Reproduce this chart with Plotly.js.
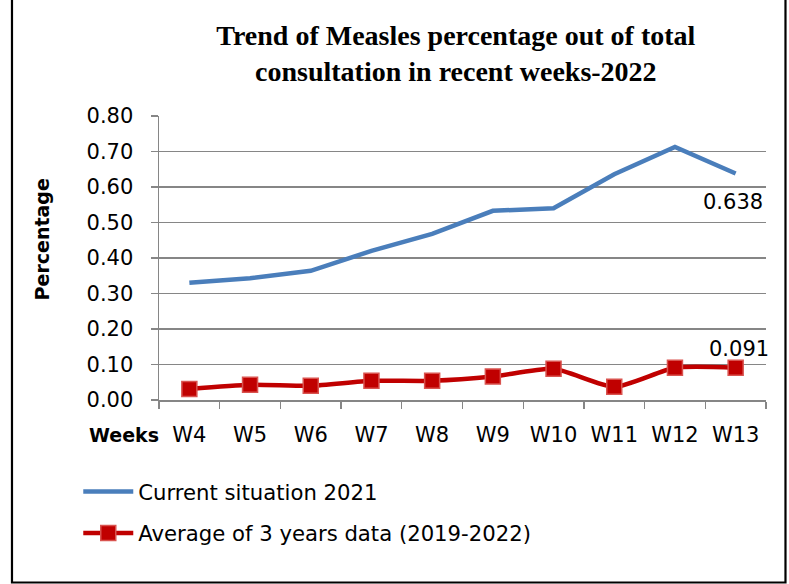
<!DOCTYPE html>
<html>
<head>
<meta charset="utf-8">
<script src="https://cdn.plot.ly/plotly-3.0.1.min.js"></script>
<style>html,body{margin:0;padding:0;background:#fff;}#chart{width:789px;height:584px;}</style>
</head>
<body>
<div id="chart"></div>
<script>
const weeks = ["W4","W5","W6","W7","W8","W9","W10","W11","W12","W13"];
const current2021 = [0.330, 0.343, 0.364, 0.420, 0.468, 0.533, 0.540, 0.636, 0.713, 0.638];
const avg3Years = [0.031, 0.043, 0.040, 0.054, 0.054, 0.066, 0.088, 0.037, 0.091, 0.091];
const yTicks = [0, 0.1, 0.2, 0.3, 0.4, 0.5, 0.6, 0.7, 0.8];

const tickFont = {family: "DejaVu Sans", size: 21, color: "#000"};
const gridCol = "#868686";

const traces = [
  {
    x: weeks, y: current2021, type: "scatter", mode: "lines",
    name: "Current situation 2021", legendgroup: "a",
    line: {color: "#4A7EBB", width: 4.5},
    hoverinfo: "x+y"
  },
  {
    x: weeks, y: avg3Years, type: "scatter", mode: "lines+markers",
    name: "Average of 3 years data (2019-2022)", legendgroup: "b",
    line: {color: "#C00000", width: 4.5, shape: "spline", smoothing: 0.6},
    marker: {symbol: "square", size: 15, color: "#C00000", line: {color: "#D9534F", width: 1.5}},
    hoverinfo: "x+y"
  }
];

const last = weeks.length - 1;
const annotations = [
  {x: weeks[last], y: current2021[last], xref: "x", yref: "y", text: current2021[last].toFixed(3),
   showarrow: false, yshift: -28, xshift: -3, font: tickFont},
  {x: weeks[last], y: avg3Years[last], xref: "x", yref: "y", text: avg3Years[last].toFixed(3),
   showarrow: false, yshift: 19, xshift: 3, font: tickFont},
  {x: 0.003, y: -0.122, xref: "paper", yref: "paper", xanchor: "right", yanchor: "middle",
   text: "<b>Weeks</b>", showarrow: false, font: {family: "DejaVu Sans", size: 19, color: "#000"}},
  {x: -0.192, y: 0.567, xref: "paper", yref: "paper", xanchor: "center", yanchor: "middle",
   text: "<b>Percentage</b>", textangle: -90, showarrow: false, font: {family: "DejaVu Sans", size: 19, color: "#000"}}
];

const layout = {
  width: 789, height: 584,
  margin: {l: 159, r: 23, t: 116, b: 184},
  paper_bgcolor: "#fff", plot_bgcolor: "#fff",
  title: {
    text: "<b>Trend of Measles percentage out of total<br>consultation in recent weeks-2022</b>",
    font: {family: "Liberation Serif", size: 28, color: "#000"},
    x: 0.489, xref: "paper", xanchor: "center",
    y: 0.923, yref: "container", yanchor: "top"
  },
  xaxis: {
    type: "category", range: [-0.5, 9.5], tickson: "boundaries",
    ticks: "outside", ticklen: 7, tickcolor: gridCol, tickwidth: 1.3,
    showline: true, linecolor: gridCol, linewidth: 1.5,
    showgrid: false, zeroline: false, tickfont: tickFont, ticklabelstandoff: 15
  },
  yaxis: {
    range: [0, 0.8], tickvals: yTicks, tickformat: ".2f",
    ticks: "outside", ticklen: 7, tickcolor: gridCol, tickwidth: 1.3,
    showline: true, linecolor: gridCol, linewidth: 1.5,
    showgrid: true, gridcolor: gridCol, gridwidth: 1.5, zeroline: false,
    tickfont: tickFont, ticklabelstandoff: 13
  },
  showlegend: true,
  legend: {
    x: -0.133, y: -0.251, xanchor: "left", yanchor: "top",
    font: {family: "DejaVu Sans", size: 21.2, color: "#000"},
    tracegroupgap: 11, itemwidth: 50, bgcolor: "rgba(0,0,0,0)"
  },
  annotations: annotations,
  shapes: [
    {type: "path", xref: "paper", yref: "paper",
     path: "M -0.2422,1.5 L -0.2422,-0.6426 L 1.0321,-0.6426 L 1.0321,1.5",
     line: {color: "#000", width: 2.2}}
  ]
};

Plotly.newPlot("chart", traces, layout, {displayModeBar: false, staticPlot: true});
</script>
</body>
</html>
